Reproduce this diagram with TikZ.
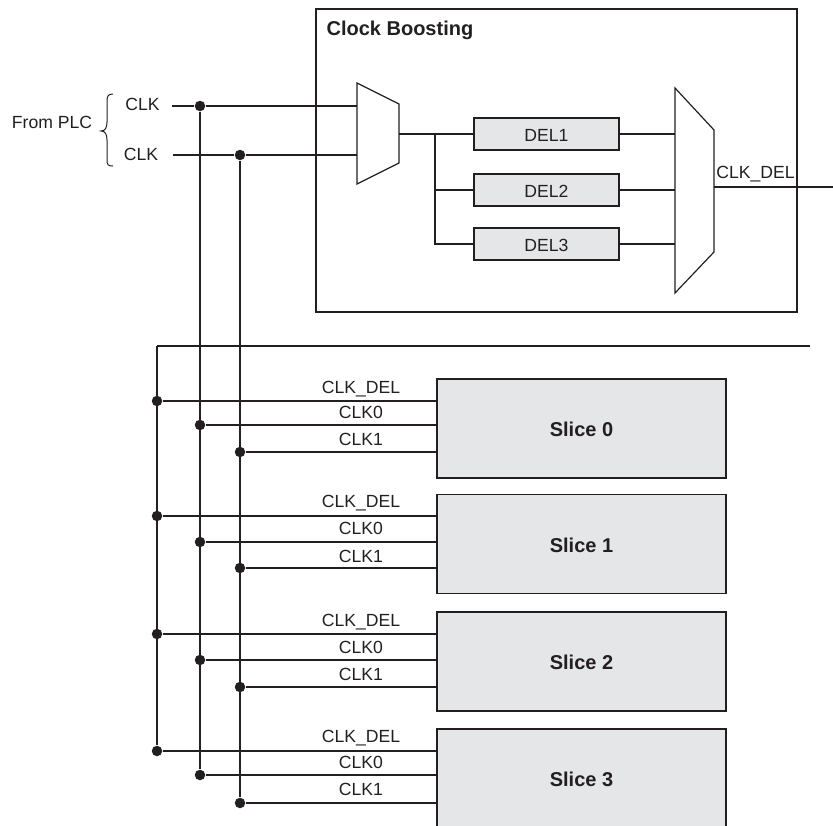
\documentclass[tikz,border=0pt]{standalone}
\usepackage{fontspec}
\setmainfont{Liberation Sans}
\usepackage{xcolor}
\definecolor{boxgrey}{RGB}{229, 230, 231}
\definecolor{wireblack}{RGB}{35, 31, 32}
\begin{document}
\begin{tikzpicture}[x=1pt, y=-1pt, line width=1.2pt, draw=wireblack, text=wireblack,
    every node/.style={font=\fontsize{17.6}{19}\selectfont, inner sep=0pt},
    delbox/.style={draw, fill=boxgrey, minimum width=145pt, minimum height=32pt, text height=14.5pt},
    slicebox/.style={draw, fill=boxgrey, minimum width=289pt, minimum height=99pt, text height=17pt, font=\fontsize{20}{22}\selectfont\bfseries},
    junction/.style={circle, fill=wireblack, minimum size=10.5pt}]
      \useasboundingbox (0,0) rectangle (833,825);
      % clock boosting block
      \node[draw, minimum width=481pt, minimum height=303pt] (boost) at (556.5,160.5) {};
      \node[font=\fontsize{20}{22}\selectfont\bfseries, anchor=west] (title) at (326,30.5) {Clock Boosting};
      \node (plc) at (52,122) {From PLC};
      \node (clka) at (142.5,104.5) {CLK};
      \node (clkb) at (141,154.5) {CLK};
      \draw[line width=1pt] (113,94) .. controls (108,94) and (107,96) .. (107,102) -- (107,122) .. controls (107,128) and (105,131) .. (101,131) .. controls (105,131) and (107,134) .. (107,140) -- (107,160) .. controls (107,165) and (108,166) .. (113,166);
      % input mux
      \coordinate (ma) at (357,83);
      \coordinate (mb) at (399,104);
      \coordinate (mc) at (399,163);
      \coordinate (md) at (357,184);
      \draw (ma) -- (mb) -- (mc) -- (md) -- cycle;
      \coordinate (ina) at (357,106);
      \coordinate (inb) at (357,155);
      \coordinate (outa) at (399,134);
      \coordinate (starta) at (172,106);
      \coordinate (startb) at (173,155);
      \node[junction] (ja) at (200,106) {};
      \node[junction] (jb) at (240,155) {};
      \draw (starta) -- (ja) -- (ina);
      \draw (startb) -- (jb) -- (inb);
      % delay line
      \node[delbox] (del1) at (546.5,134) {DEL1};
      \node[delbox] (del2) at (546.5,190) {DEL2};
      \node[delbox] (del3) at (546.5,244) {DEL3};
      \coordinate (ta) at (435,134);
      \coordinate (tb) at (435,190);
      \coordinate (tc) at (435,244);
      \draw (outa) -- (del1.west);
      \draw (ta) -- (tc) -- (del3.west);
      \draw (tb) -- (del2.west);
      % output mux
      \coordinate (na) at (675,88);
      \coordinate (nb) at (714,130);
      \coordinate (nc) at (714,252);
      \coordinate (nd) at (675,293);
      \draw (na) -- (nb) -- (nc) -- (nd) -- cycle;
      \draw (del1.east) -- (del1.east -| na);
      \draw (del2.east) -- (del2.east -| na);
      \draw (del3.east) -- (del3.east -| na);
      \coordinate (outb) at (714,187);
      \coordinate (busr) at (833,187);
      \draw (outb) -- (busr);
      \node (delout) at (755.5,174) {CLK\_DEL};
      % feedback bus
      \coordinate (fa) at (810,346);
      \coordinate (fb) at (157,346);
      \draw (fa) -- (fb);
      % slices
      \node[slicebox] (s0) at (581.5,428.5) {Slice 0};
      \node[slicebox] (s1) at (581.5,544) {Slice 1};
      \node[slicebox] (s2) at (581.5,661.5) {Slice 2};
      \node[slicebox] (s3) at (581.5,778.5) {Slice 3};
      \node[junction] (d0) at (157,401) {};
      \node[junction] (a0) at (200,425) {};
      \node[junction] (b0) at (240,452) {};
      \node[junction] (d1) at (157,516) {};
      \node[junction] (a1) at (200,542) {};
      \node[junction] (b1) at (240,568) {};
      \node[junction] (d2) at (157,634) {};
      \node[junction] (a2) at (200,660) {};
      \node[junction] (b2) at (240,687) {};
      \node[junction] (d3) at (157,751) {};
      \node[junction] (a3) at (200,775) {};
      \node[junction] (b3) at (240,803) {};
      \draw (fb) -- (d3);
      \draw (ja) -- (a3);
      \draw (jb) -- (b3);
      \draw (d0) -- (d0 -| s0.west);
      \draw (a0) -- (a0 -| s0.west);
      \draw (b0) -- (b0 -| s0.west);
      \draw (d1) -- (d1 -| s1.west);
      \draw (a1) -- (a1 -| s1.west);
      \draw (b1) -- (b1 -| s1.west);
      \draw (d2) -- (d2 -| s2.west);
      \draw (a2) -- (a2 -| s2.west);
      \draw (b2) -- (b2 -| s2.west);
      \draw (d3) -- (d3 -| s3.west);
      \draw (a3) -- (a3 -| s3.west);
      \draw (b3) -- (b3 -| s3.west);
      \node (ld0) at (361,389.5) {CLK\_DEL};
      \node (la0) at (361,412.5) {CLK0};
      \node (lb0) at (361,439.5) {CLK1};
      \node (ld1) at (361,503.5) {CLK\_DEL};
      \node (la1) at (361,528.5) {CLK0};
      \node (lb1) at (361,556.5) {CLK1};
      \node (ld2) at (361,622.5) {CLK\_DEL};
      \node (la2) at (361,647.5) {CLK0};
      \node (lb2) at (361,674.5) {CLK1};
      \node (ld3) at (361,738.5) {CLK\_DEL};
      \node (la3) at (361,762.5) {CLK0};
      \node (lb3) at (361,789.5) {CLK1};
    \end{tikzpicture}
\end{document}
